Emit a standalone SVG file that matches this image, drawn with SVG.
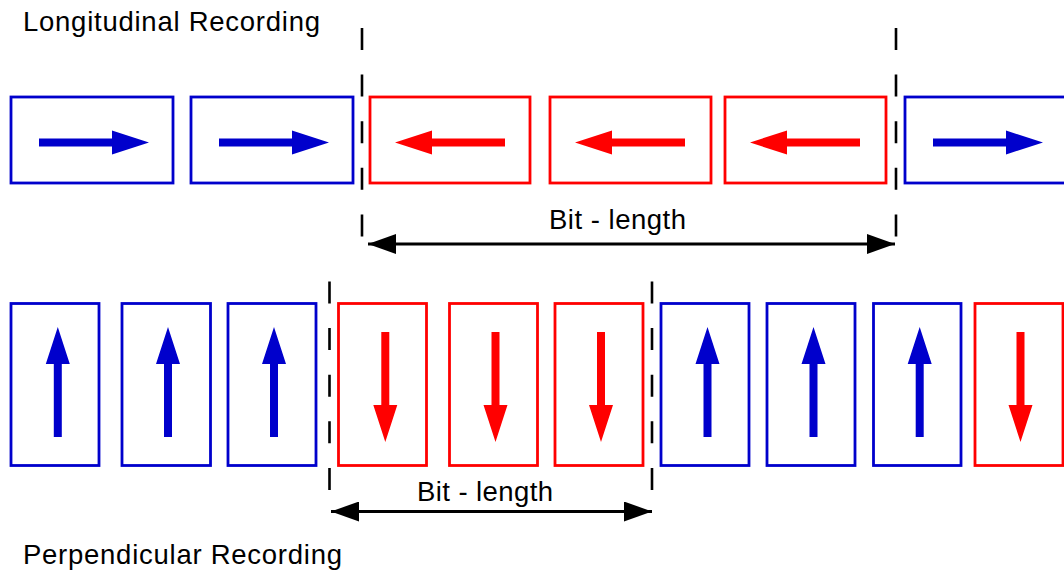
<svg xmlns="http://www.w3.org/2000/svg" width="1064" height="579" viewBox="0 0 1064 579">
  <style>
    .cell { fill: #ffffff; stroke-width: 2.8; }
    .n { stroke: #0000cc; }
    .s { stroke: #ff0000; }
    .mn { fill: #0000cc; }
    .ms { fill: #ff0000; }
    .guide { stroke: #000000; stroke-width: 2.6; stroke-dasharray: 22 24.6; fill: none; }
    .dim { stroke: #000000; stroke-width: 3; fill: none; }
    .lbl { font-family: "Liberation Sans", Arial, sans-serif; font-size: 27.5px; fill: #000000; }
  </style>
  <defs>
    <!-- magnetisation arrow, tail at origin, pointing along +x -->
    <path id="mag" d="M0,-4 H73 V-12 L110,0 L73,12 V4 H0 Z"/>
    <marker id="dimHead" viewBox="0 0 28 20" refX="28" refY="10" markerWidth="28" markerHeight="20" markerUnits="userSpaceOnUse" orient="auto-start-reverse">
      <path d="M0,0 L28,10 L0,20 Z" fill="#000000"/>
    </marker>
  </defs>

  <rect width="1064" height="579" fill="#ffffff"/>

  <!-- titles -->
  <text class="lbl" x="23" y="31" textLength="297" lengthAdjust="spacing">Longitudinal Recording</text>
  <text class="lbl" x="23" y="564" textLength="319" lengthAdjust="spacing">Perpendicular Recording</text>

  <!-- longitudinal track -->
  <g id="lon1"><rect class="cell n" x="11" y="97" width="162" height="86"/><use href="#mag" class="mn" transform="translate(39,142.5)"/></g>
  <g id="lon2"><rect class="cell n" x="191" y="97" width="162" height="86"/><use href="#mag" class="mn" transform="translate(219,142.5)"/></g>
  <g id="lon3"><rect class="cell s" x="370" y="97" width="160" height="86"/><use href="#mag" class="ms" transform="translate(505,142.5) rotate(180)"/></g>
  <g id="lon4"><rect class="cell s" x="550" y="97" width="161" height="86"/><use href="#mag" class="ms" transform="translate(685,142.5) rotate(180)"/></g>
  <g id="lon5"><rect class="cell s" x="725" y="97" width="161" height="86"/><use href="#mag" class="ms" transform="translate(860,142.5) rotate(180)"/></g>
  <g id="lon6"><rect class="cell n" x="905" y="97" width="162" height="86"/><use href="#mag" class="mn" transform="translate(933,142.5)"/></g>

  <!-- perpendicular track -->
  <g id="per1"><rect class="cell n" x="11" y="303.5" width="88" height="162"/><use href="#mag" class="mn" transform="translate(57.8,437) rotate(-90)"/></g>
  <g id="per2"><rect class="cell n" x="122" y="303.5" width="88.5" height="162"/><use href="#mag" class="mn" transform="translate(168,437) rotate(-90)"/></g>
  <g id="per3"><rect class="cell n" x="228" y="303.5" width="88" height="162"/><use href="#mag" class="mn" transform="translate(274,437) rotate(-90)"/></g>
  <g id="per4"><rect class="cell s" x="338.5" y="303.5" width="88" height="162"/><use href="#mag" class="ms" transform="translate(385.3,332) rotate(90)"/></g>
  <g id="per5"><rect class="cell s" x="449.5" y="303.5" width="88" height="162"/><use href="#mag" class="ms" transform="translate(495.5,332) rotate(90)"/></g>
  <g id="per6"><rect class="cell s" x="555" y="303.5" width="88" height="162"/><use href="#mag" class="ms" transform="translate(601,332) rotate(90)"/></g>
  <g id="per7"><rect class="cell n" x="661" y="303.5" width="88" height="162"/><use href="#mag" class="mn" transform="translate(707.5,437) rotate(-90)"/></g>
  <g id="per8"><rect class="cell n" x="767" y="303.5" width="88" height="162"/><use href="#mag" class="mn" transform="translate(813.5,437) rotate(-90)"/></g>
  <g id="per9"><rect class="cell n" x="873.5" y="303.5" width="87.5" height="162"/><use href="#mag" class="mn" transform="translate(919.7,437) rotate(-90)"/></g>
  <g id="per10"><rect class="cell s" x="975" y="303.5" width="88" height="162"/><use href="#mag" class="ms" transform="translate(1020.5,332) rotate(90)"/></g>

  <!-- bit boundaries -->
  <g id="guides">
    <line class="guide" x1="362" y1="28" x2="362" y2="237"/>
    <line class="guide" x1="896" y1="28" x2="896" y2="237"/>
    <line class="guide" x1="329.5" y1="281.5" x2="329.5" y2="491"/>
    <line class="guide" x1="652" y1="281.5" x2="652" y2="491"/>
  </g>

  <!-- bit-length dimensions -->
  <g id="connectors">
    <line class="dim" x1="368" y1="244" x2="895" y2="244" marker-start="url(#dimHead)" marker-end="url(#dimHead)"/>
    <line class="dim" x1="331" y1="511.5" x2="652" y2="511.5" marker-start="url(#dimHead)" marker-end="url(#dimHead)"/>
  </g>
  <text class="lbl" x="549" y="229" textLength="137" lengthAdjust="spacing">Bit - length</text>
  <text class="lbl" x="417" y="500.5" textLength="136" lengthAdjust="spacing">Bit - length</text>
</svg>
